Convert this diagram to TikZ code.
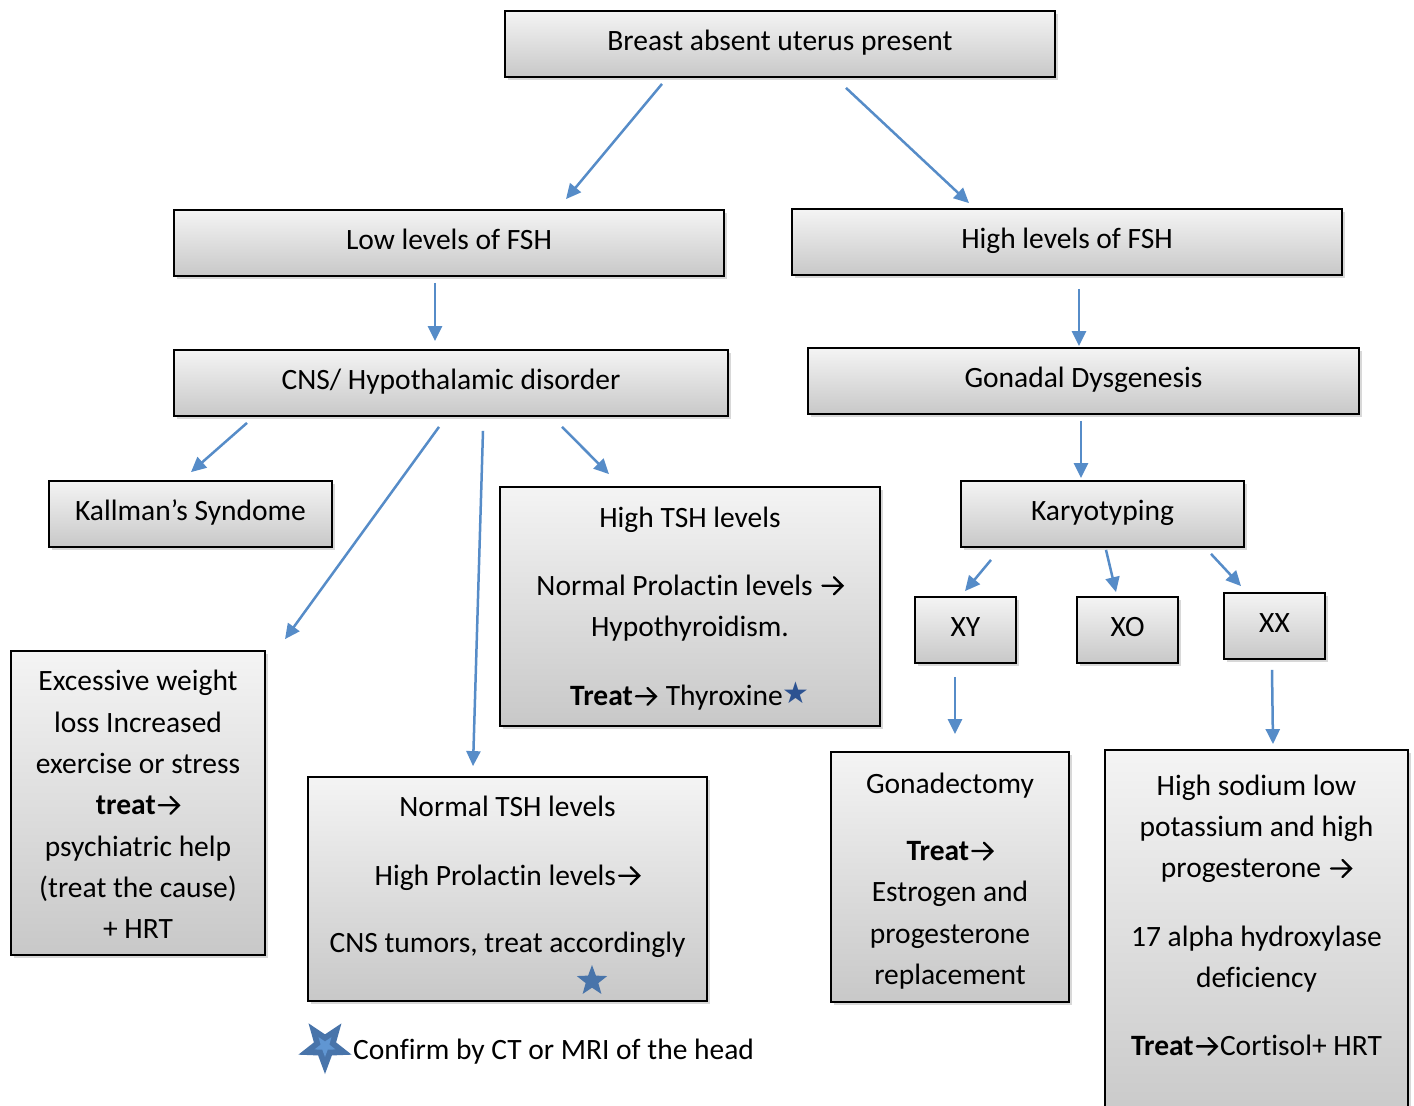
\documentclass[tikz,border=0pt]{standalone}
\usepackage{fontspec}
\setmainfont[Ligatures={NoCommon}]{Carlito}
\newfontfamily\djv{DejaVu Sans}
\usetikzlibrary{shadows,shapes.geometric,arrows.meta}
\definecolor{arrblue}{RGB}{86,140,200}
\definecolor{boxtop}{RGB}{244,244,244}
\definecolor{boxbot}{RGB}{200,200,200}
\definecolor{stardark}{RGB}{44,82,145}
\definecolor{starmid}{RGB}{72,116,170}
\definecolor{starlight}{RGB}{96,150,210}
\newcommand\rto{\hspace{2pt}\tikz[baseline=-9.5pt]\draw[line width=2.3pt, line cap=round, line join=miter] (0pt,0pt) -- (20pt,0pt) (11.5pt,-8.5pt) -- (20pt,0pt) -- (11.5pt,8.5pt);\hspace{2pt}}
\tikzset{
  box/.style={draw=black, line width=1.8pt, top color=boxtop, bottom color=boxbot,
    inner sep=0pt, drop shadow={shadow xshift=2.5pt, shadow yshift=-3pt, opacity=0.3},
    font=\fontsize{29.5}{41}\selectfont, align=center, text height=21pt, text depth=8pt},
  txt/.style={font=\fontsize{29.5}{41.3}\selectfont, align=center, inner sep=0pt},
  arr/.style={draw=arrblue, line width=2.5pt, -{Triangle[length=15pt,width=14pt]}},
  starnode/.style={star, star points=5, star point ratio=2.4, inner sep=0pt, draw=none, shape border rotate=180}
}
\begin{document}
\begin{tikzpicture}[x=1pt,y=-1pt]
\clip (0,0) rectangle (1414,1106);
\fill[white] (0,0) rectangle (1414,1106);
% single-line boxes
\node[box, minimum width=550pt, minimum height=66pt] (top) at (780,44) {Breast absent uterus present};
\node[box, minimum width=550pt, minimum height=66pt] (low) at (449,243) {Low levels of FSH};
\node[box, minimum width=550pt, minimum height=66pt] (high) at (1067,242) {High levels of FSH};
\node[box, minimum width=554pt, minimum height=66pt] (cns) at (451,383) {CNS/ Hypothalamic disorder};
\node[box, minimum width=551pt, minimum height=66pt] (gon) at (1083.5,381) {Gonadal Dysgenesis};
\node[box, minimum width=283pt, minimum height=66pt] (kal) at (190.5,514) {Kallman’s Syndome};
\node[box, minimum width=283pt, minimum height=66pt] (kar) at (1102.5,514) {Karyotyping};
\node[box, minimum width=101pt, minimum height=66pt] (xy) at (965.5,630) {XY};
\node[box, minimum width=101pt, minimum height=66pt] (xo) at (1127.5,630) {XO};
\node[box, minimum width=101pt, minimum height=66pt] (xx) at (1274.5,626) {XX};
% multi-line boxes
\node[box, minimum width=380pt, minimum height=239pt] (htsh) at (690,606.5) {};
\node[txt] (htshT) at (690,609) {High TSH levels\\[26pt]Normal Prolactin levels \rto\\Hypothyroidism.\\[28pt]\textbf{Treat\rto} Thyroxine{\djv\color{stardark}\fontsize{30}{30}\selectfont\raisebox{2pt}{★}}};
\node[box, minimum width=254pt, minimum height=304pt] (exc) at (138,803) {};
\node[txt] (excT) at (138,804.5) {Excessive weight\\loss Increased\\exercise or stress\\\textbf{treat\rto}\\psychiatric help\\(treat the cause)\\+ HRT};
\node[box, minimum width=399pt, minimum height=224pt] (ntsh) at (507.5,889) {};
\node[txt] (ntshT) at (507.5,877) {Normal TSH levels\\[27pt]High Prolactin levels\rto\\[26pt]CNS tumors, treat accordingly};
\node[starnode, fill=starmid, minimum size=32pt, shape border rotate=0] (ntshS) at (592,981) {};
\node[box, minimum width=238pt, minimum height=250pt] (gdx) at (950,877) {};
\node[txt] (gdxT) at (950,881) {Gonadectomy\\[26pt]\textbf{Treat\rto}\\Estrogen and\\progesterone\\replacement};
\node[box, minimum width=303pt, minimum height=380pt] (hs) at (1256.5,940) {};
\node[txt] (hsT) at (1256.5,915.5) {High sodium low\\potassium and high\\progesterone \rto\\[27pt]17 alpha hydroxylase\\deficiency\\[27pt]\textbf{Treat\rto}Cortisol+ HRT};
% legend
\node[starnode, fill=starmid, minimum size=56pt] (legS) at (325,1046) {};
\node[starnode, fill=starlight, minimum size=22pt] (legSi) at (325,1046) {};
\node[txt, anchor=west] (legT) at (353,1052) {Confirm by CT or MRI of the head};
% connectors
\draw[arr] ([shift={(-118,6)}]top.south) -- ([shift={(117,-10)}]low.north);
\draw[arr] ([shift={(66,10)}]top.south) -- ([shift={(-98,-5)}]high.north);
\draw[arr] ([shift={(-14,6)}]low.south) -- ([shift={(-16,-8)}]cns.north);
\draw[arr] ([shift={(12,13)}]high.south) -- ([shift={(-4.5,-1)}]gon.north);
\draw[arr] ([shift={(-204,6)}]cns.south) -- ([shift={(0.5,-8)}]kal.north);
\draw[arr] ([shift={(-12,10)}]cns.south) -- ([shift={(147,-11)}]exc.north);
\draw[arr] ([shift={(32,14)}]cns.south) -- ([shift={(-34.5,-10)}]ntsh.north);
\draw[arr] ([shift={(111,10)}]cns.south) -- ([shift={(-81,-12)}]htsh.north);
\draw[arr] ([shift={(-2.5,6)}]gon.south) -- ([shift={(-21.5,-2)}]kar.north);
\draw[arr] ([shift={(-111.5,12)}]kar.south) -- ([shift={(-0.5,-5)}]xy.north);
\draw[arr] ([shift={(3.5,2)}]kar.south) -- ([shift={(-11.5,-4)}]xo.north);
\draw[arr] ([shift={(108.5,6)}]kar.south) -- ([shift={(-33.5,-6)}]xx.north);
\draw[arr] ([shift={(-10.5,13)}]xy.south) -- ([shift={(5,-17)}]gdx.north);
\draw[arr] ([shift={(-2.5,10)}]xx.south) -- ([shift={(16.5,-5)}]hs.north);
\end{tikzpicture}
\end{document}
